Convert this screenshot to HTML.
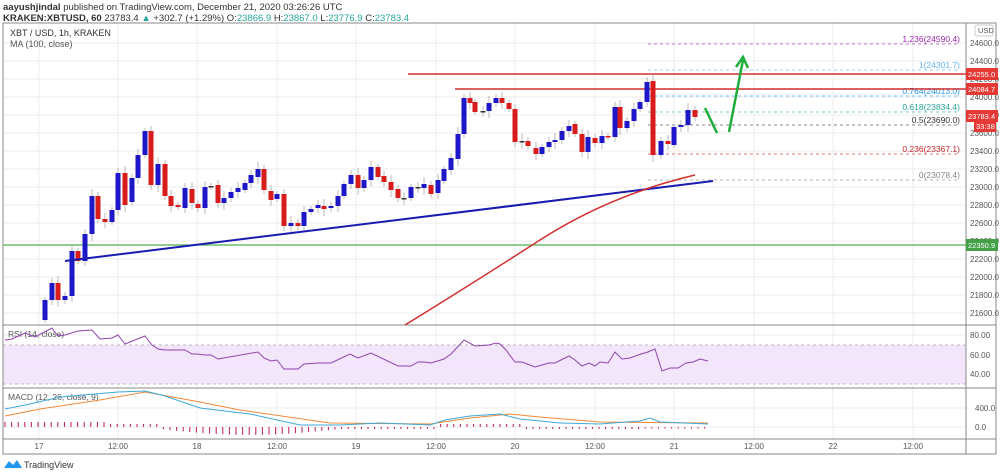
<!DOCTYPE html>
<html><head><meta charset="utf-8"><style>
html,body{margin:0;padding:0;background:#fff;width:1000px;height:474px;overflow:hidden;font-family:"Liberation Sans",sans-serif}
</style></head><body>
<svg id="s" width="1000" height="474" xmlns="http://www.w3.org/2000/svg" font-family="Liberation Sans, sans-serif">
<text x="3" y="10" font-size="9.5" fill="#333"><tspan font-weight="bold">aayushjindal</tspan> published on TradingView.com, December 21, 2020 03:26:26 UTC</text>
<text x="3" y="21" font-size="9.5" fill="#333"><tspan font-weight="bold">KRAKEN:XBTUSD, 60</tspan> 23783.4 <tspan fill="#26a69a">▲</tspan> +302.7 (+1.29%) O:<tspan fill="#26a69a">23866.9</tspan> H:<tspan fill="#26a69a">23867.0</tspan> L:<tspan fill="#26a69a">23776.9</tspan> C:<tspan fill="#26a69a">23783.4</tspan></text>
<g id="g"></g>
</svg>
<script>
const NS="http://www.w3.org/2000/svg",g=document.getElementById('g');
function el(t,a,txt){const e=document.createElementNS(NS,t);for(const k in a)e.setAttribute(k,a[k]);if(txt!==undefined)e.textContent=txt;g.appendChild(e);return e;}
const L=3,R=966,T=23,MB=325,RB=388,KB=439,AB=454;
for(let p=21600;p<=24600;p+=200){const y=43+(24600-p)*0.09;el('line',{x1:L,x2:R,y1:y,y2:y,stroke:'#ececec','stroke-width':1});el('text',{x:970,y:y+3,'font-size':8,fill:'#555'},p.toFixed(1));}
const vx=[39,118,197,277,356,436,515,595,674,754,833,913],vl=['17','12:00','18','12:00','19','12:00','20','12:00','21','12:00','22','12:00'];
vx.forEach((x,i)=>{el('line',{x1:x,x2:x,y1:T,y2:KB,stroke:'#ececec'});el('text',{x:x,y:449,'font-size':8,fill:'#555','text-anchor':'middle'},vl[i]);});
el('rect',{x:L,y:345,width:R-L,height:39,fill:'#f3e5fb'});
[345,384].forEach(y=>el('line',{x1:L,x2:R,y1:y,y2:y,stroke:'#bbb','stroke-dasharray':'3,3'}));
[[335,'80.00'],[355,'60.00'],[374,'40.00']].forEach(a=>{el('line',{x1:L,x2:R,y1:a[0],y2:a[0],stroke:'#ececec'});el('text',{x:970,y:a[0]+3,'font-size':8,fill:'#555'},a[1]);});
[[408,'400.0'],[427,'0.0']].forEach(a=>{el('line',{x1:L,x2:R,y1:a[0],y2:a[0],stroke:'#ececec'});el('text',{x:975,y:a[0]+3,'font-size':8,fill:'#555'},a[1]);});
el('rect',{x:L,y:T,width:993,height:AB-T,fill:'none',stroke:'#888'});
[MB,RB,KB].forEach(y=>el('line',{x1:L,x2:996,y1:y,y2:y,stroke:'#888'}));
el('line',{x1:R,x2:R,y1:T,y2:AB,stroke:'#888'});
el('text',{x:10,y:36,'font-size':9,fill:'#333'},'XBT / USD, 1h, KRAKEN');
el('text',{x:10,y:47,'font-size':9,fill:'#555'},'MA (100, close)');
el('text',{x:8,y:337,'font-size':8.5,fill:'#555'},'RSI (14, close)');
el('text',{x:8,y:400,'font-size':8.5,fill:'#555'},'MACD (12, 26, close, 9)');
el('rect',{x:975,y:25,width:18,height:11,rx:2,fill:'#fff',stroke:'#ccc'});el('text',{x:978,y:33,'font-size':7.5,fill:'#555'},'USD');
el('line',{x1:L,x2:R,y1:245,y2:245,stroke:'#4caf50','stroke-width':1.2});
const fib=[[44,'#9c27b0','1.236(24590.4)'],[70,'#64b5f6','1(24301.7)'],[96,'#2196f3','0.764(24013.0)'],[112,'#26a69a','0.618(23834.4)'],[125,'#333','0.5(23690.0)'],[154,'#c62828','0.236(23367.1)'],[180,'#888','0(23078.4)']];
fib.forEach(f=>{el('line',{x1:648,x2:958,y1:f[0],y2:f[0],stroke:f[1],'stroke-dasharray':'3,3','stroke-width':0.8,opacity:0.8});el('text',{x:960,y:f[0]-2,'font-size':8.5,fill:f[1],'text-anchor':'end'},f[2]);});
el('line',{x1:408,x2:R,y1:74,y2:74,stroke:'#d32f2f','stroke-width':1.5});
el('line',{x1:455,x2:R,y1:89,y2:89,stroke:'#d32f2f','stroke-width':1.5});
const C=[[45,300,320,1],[52,283,300,1],[58,283,300,0],[65,296,300,1],[72,251,296,1],[78,251,261,0],[85,234,261,1],[92,196,234,1],[98,196,219,0],[105,219,222,0],[112,210,222,1],[118,173,210,1],[125,173,205,0],[132,178,202,1],[138,155,178,1],[145,131,155,1],[151,131,185,0],[158,164,185,1],[165,164,196,0],[171,196,206,0],[178,205,207,0],[185,188,208,1],[192,189,203,0],[198,204,208,0],[205,187,208,1],[211,186,187,2],[218,185,203,0],[224,198,203,1],[231,192,198,1],[238,188,192,1],[245,183,190,1],[251,175,183,1],[258,169,177,1],[264,169,190,0],[271,191,200,0],[277,194,199,1],[284,194,226,0],[291,223,226,1],[298,223,226,0],[304,212,226,1],[311,209,212,1],[318,205,208,1],[324,206,209,0],[331,206,208,1],[338,196,206,1],[344,184,196,1],[351,175,184,1],[358,175,188,0],[364,180,188,1],[371,167,180,1],[378,167,177,0],[384,176,182,0],[391,182,190,0],[398,189,198,0],[404,198,199,2],[411,187,198,1],[418,187,188,2],[424,184,188,1],[431,185,194,0],[438,180,193,1],[444,169,181,1],[451,158,170,1],[458,134,159,1],[464,98,134,1],[470,98,103,0],[475,102,112,0],[483,111,112,2],[489,103,111,1],[496,98,103,1],[502,98,103,0],[509,103,109,0],[515,109,142,0],[522,141,142,2],[528,141,146,0],[536,148,154,0],[542,147,154,1],[549,142,147,1],[555,140,142,1],[562,131,140,1],[569,126,131,1],[575,124,134,0],[582,134,152,0],[588,137,152,1],[595,138,143,0],[602,136,143,1],[608,136,137,0],[615,107,137,1],[620,107,128,0],[627,121,128,1],[634,109,121,1],[640,102,109,1],[647,82,102,1],[653,81,155,0],[661,141,155,1],[668,141,144,0],[674,127,145,1],[681,125,127,1],[688,110,125,1],[695,110,117,0]];
C.forEach((c,i)=>{const col=c[3]==1?'#1e17c8':(c[3]==0?'#d81b1b':'#333');const w=((i*7)%5)+3;
el('line',{x1:c[0],x2:c[0],y1:c[1]-w,y2:c[2]+w,stroke:'#aaa','stroke-width':0.8});
el('rect',{x:c[0]-2.5,y:c[1],width:5,height:Math.max(1.5,c[2]-c[1]),fill:col});});
el('line',{x1:65,y1:261,x2:713,y2:181,stroke:'#1a1ab0','stroke-width':2});
el('path',{d:'M405,325 Q470,285 540,240 Q610,195 695,175',fill:'none',stroke:'#d32f2f','stroke-width':1.5});
el('path',{d:'M705,108 L717,133 M729,132 L743,60 M736,67 L743,57 L748,68',fill:'none',stroke:'#1fae3a','stroke-width':2.5});
[[74,'#e53935','24255.0'],[89,'#e53935','24084.7'],[116,'#e53935','23783.4'],[245,'#43a047','22350.9']].forEach(a=>{el('rect',{x:966,y:a[0]-6,width:32,height:12,fill:a[1]});el('text',{x:968,y:a[0]+3,'font-size':7.5,fill:'#fff'},a[2]);});
el('rect',{x:974,y:121,width:22,height:11,fill:'#e53935'});el('text',{x:976,y:129,'font-size':7.5,fill:'#fff'},'33:38');
const rsi=[[5,340],[12,339],[25,333],[35,337],[52,328],[58,336],[65,335],[78,331],[92,330],[100,339],[112,338],[118,335],[125,344],[145,336],[152,345],[158,349],[165,350],[185,350],[192,354],[197,354],[205,355],[211,355],[218,359],[258,352],[264,358],[271,361],[277,360],[284,369],[298,369],[304,364],[318,363],[331,363],[350,354],[358,358],[371,353],[398,366],[411,366],[418,362],[424,362],[431,363],[444,359],[451,354],[464,340],[475,346],[489,345],[496,343],[500,344],[506,350],[515,362],[522,362],[535,367],[549,363],[555,363],[569,356],[575,360],[582,366],[589,363],[595,366],[600,362],[608,363],[615,352],[622,359],[630,358],[641,354],[648,352],[655,349],[662,371],[670,368],[678,368],[686,363],[693,362],[700,359],[708,361]];
el('polyline',{points:rsi.map(p=>p.join(',')).join(' '),fill:'none',stroke:'#8e44ad','stroke-width':1});
for(let x=5;x<=708;x+=6.6){let h;if(x<110)h=-5;else if(x<160)h=-3;else if(x<340)h=2+6*Math.sin((x-160)/180*Math.PI);else if(x<440)h=2;else if(x<520)h=-3;else if(x<640)h=2;else h=1.5;
el('line',{x1:x,x2:x,y1:427,y2:427+h,stroke:'#c2185b','stroke-width':1});}
const mb=[[5,409],[30,404],[60,397],[118,392],[145,391],[165,396],[200,408],[250,414],[300,425],[340,425],[380,423],[430,425],[445,420],[470,416],[500,414],[520,419],[560,423],[600,424],[640,421],[650,418],[660,422],[708,424]];
const mo=[[5,416],[40,409],[100,400],[145,392],[200,402],[240,410],[330,423],[430,424],[470,418],[510,414],[540,417],[600,422],[708,423]];
el('polyline',{points:mo.map(p=>p.join(',')).join(' '),fill:'none',stroke:'#ef8a3a','stroke-width':1});
el('polyline',{points:mb.map(p=>p.join(',')).join(' '),fill:'none',stroke:'#3fa9d6','stroke-width':1});
el('path',{d:'M4,468 L9,461 L13,465 L17,460 L22,468 Z',fill:'#2196f3'});
el('text',{x:24,y:468,'font-size':9,fill:'#333'},'TradingView');
</script>
</body></html>
